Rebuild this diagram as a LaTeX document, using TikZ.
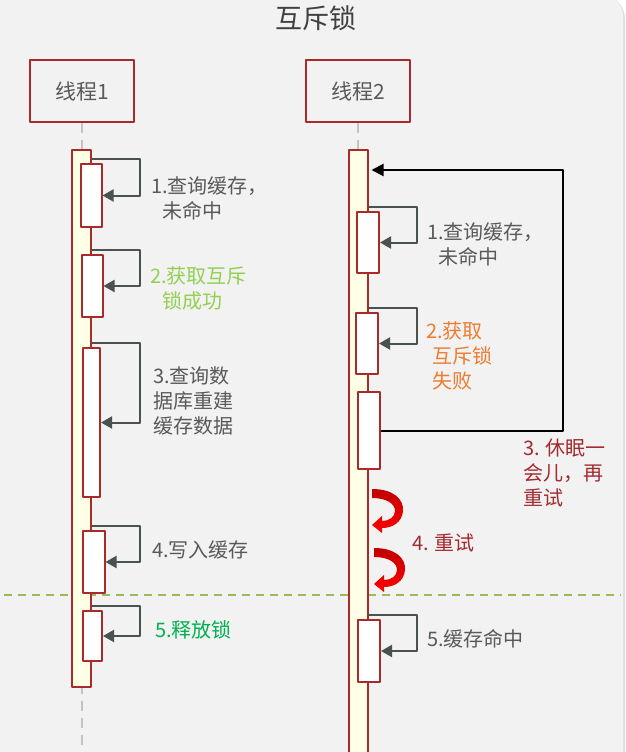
\documentclass[tikz,border=0pt]{standalone}
\usepackage{fontspec}
\setmainfont{Noto Sans CJK SC}
\usetikzlibrary{arrows.meta,calc}
\definecolor{bgcol}{HTML}{F2F2F2}
\definecolor{boxred}{HTML}{A82A2A}
\definecolor{baryel}{HTML}{FFFFE6}
\definecolor{arrgray}{HTML}{4A5151}
\definecolor{txtgray}{HTML}{595959}
\definecolor{okgreen}{HTML}{92D050}
\definecolor{relgreen}{HTML}{00B050}
\definecolor{failorange}{HTML}{ED7D31}
\definecolor{waitred}{HTML}{A32A2E}
\definecolor{splitgreen}{HTML}{9BBB59}
\definecolor{lifegray}{HTML}{C4C4C4}

\begin{document}
\begin{tikzpicture}[x=1pt, y=-1pt, line join=round,
    font=\fontsize{20}{25}\selectfont,
    thread/.style={draw=boxred, line width=2pt, minimum width=104, minimum height=61,
        text=txtgray, font=\fontsize{21}{25}\selectfont},
    life/.style={draw=lifegray, line width=2pt, dash pattern=on 10pt off 7pt},
    lane/.style={draw=boxred, fill=baryel, line width=2pt, minimum width=19,
        anchor=north, inner sep=0pt},
    act/.style={draw=boxred, fill=white, line width=2pt, minimum width=21,
        anchor=north, inner sep=0pt},
    self/.style={draw=arrgray, line width=2pt, -{Triangle[length=11pt,width=12pt]}},
    retry/.style={draw=black, line width=2pt, -{Triangle[length=12pt,width=12pt]}},
    note/.style={anchor=north west, align=left, inner sep=0pt, text=txtgray},
    split/.style={draw=splitgreen, line width=2pt, dash pattern=on 8pt off 6pt},
    curly/.pic={
        \shade[top color=red!75!black, bottom color=red]
        (0,-1) .. controls (21,-1) and (32,9) .. (31,21)
        .. controls (30,32) and (21,38) .. (10,38) -- (10,43) -- (0,35) -- (10,26) -- (10,31)
        .. controls (17,31) and (23,27) .. (23,21)
        .. controls (23,14) and (15,8) .. (0,8) -- cycle;
    }]
    \def\gap{4}
    \def\reach{48}
    \useasboundingbox (0,0) rectangle (626,752);
    \fill[black!12, rounded corners=25] (-20,-6) rectangle (625,790);
    \fill[bgcol, rounded corners=25] (-20,-8) rectangle (623,790);

    \node[text=black!75, font=\fontsize{27}{30}\selectfont] (title) at (316,18) {互斥锁};
    \node[thread] (t1) at (82,91) {线程1};
    \node[thread] (t2) at (358,91) {线程2};
    \coordinate (foot1) at (82,752);
    \coordinate (foot2) at (358,752);
    \draw[life] (t1) -- (foot1);
    \draw[life] (t2) -- (foot2);

    \coordinate (cutL) at (4,595);
    \coordinate (cutR) at (621,595);
    \draw[split] (cutL) -- (cutR);

    \node[lane, minimum height=537] (bar1) at (81.5,149) {};
    \node[lane, minimum height=630] (bar2) at (358,149) {};

    % thread 1
    \node[act, minimum height=63] (a1) at (91,163) {};
    \node[act, minimum height=62] (b1) at (92,254) {};
    \node[act, minimum height=149, minimum width=17] (c1) at (91.5,347) {};
    \node[act, minimum height=62, minimum width=22] (d1) at (93.5,530) {};
    \node[act, minimum height=50, minimum width=19] (e1) at (92.5,610) {};
    % thread 2
    \node[act, minimum height=61, minimum width=22] (a2) at (368,211) {};
    \node[act, minimum height=61, minimum width=22] (b2) at (367,312) {};
    \node[act, minimum height=77, minimum width=22] (c2) at (368.5,391) {};
    \node[act, minimum height=62, minimum width=22] (d2) at (369,619) {};

    \foreach \blk/\lane in {a1/bar1, b1/bar1, c1/bar1, d1/bar1, e1/bar1,
        a2/bar2, b2/bar2, d2/bar2}
        \draw[self] ($(\blk.north -| \lane.east)+(0,-\gap)$) -- ++(\reach,0) |- (\blk.east);

    \coordinate (wake) at ($(bar2.north east)+(3,21)$);
    \draw[retry] (c2.east) -- ++(182,0) |- (wake);

    \pic at (372,490) {curly};
    \pic at (374,549) {curly};

    \node[note] (n1a) at (151,176) {1.查询缓存，\\\hspace*{11pt}未命中};
    \node[note, text=okgreen] (n1b) at (150,266) {2.获取互斥\\\hspace*{12pt}锁成功};
    \node[note] (n1c) at (153,366) {3.查询数\\据库重建\\缓存数据};
    \node[note] (n1d) at (152,540) {4.写入缓存};
    \node[note, text=relgreen] (n1e) at (155,620) {5.释放锁};

    \node[note] (n2a) at (427,222) {1.查询缓存，\\\hspace*{11pt}未命中};
    \node[note, text=failorange] (n2b) at (426,321) {2.获取\\\hspace*{6pt}互斥锁\\\hspace*{6pt}失败};
    \node[note, text=waitred] (n2c) at (523,439) {3. 休眠一\\会儿，再\\重试};
    \node[note, text=waitred] (n2d) at (412,534) {4. 重试};
    \node[note] (n2e) at (427,629) {5.缓存命中};
\end{tikzpicture}
\end{document}
